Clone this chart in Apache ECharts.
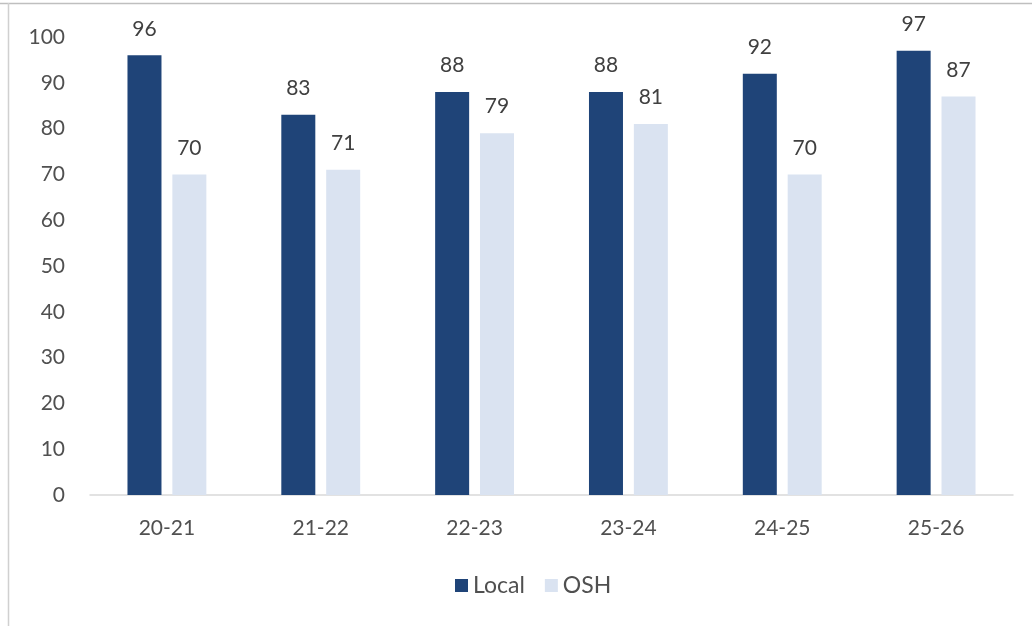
<!DOCTYPE html>
<html>
<head>
<meta charset="utf-8">
<style>
html,body{margin:0;padding:0;background:#fff;}
#chart{width:1032px;height:626px;}
</style>
<script src="https://cdn.jsdelivr.net/npm/echarts@6/dist/echarts.min.js"></script>
</head>
<body>
<div id="chart"></div>
<script>
const categories = ['20-21', '21-22', '22-23', '23-24', '24-25', '25-26'];
const localValues = [96, 83, 88, 88, 92, 97];
const oshValues = [70, 71, 79, 81, 70, 87];
const seriesNames = ['Local', 'OSH'];

const FONT = 'Lato, "Open Sans", sans-serif';
const chart = echarts.init(document.getElementById('chart'), null, {renderer: 'canvas'});
chart.setOption({
  animation: false,
  backgroundColor: '#ffffff',
  graphic: [
    {type: 'line', shape: {x1: 0, y1: 3.5, x2: 1032, y2: 3.5}, style: {stroke: '#BFBFBF', lineWidth: 1.5}},
    {type: 'line', shape: {x1: 8.5, y1: 3, x2: 8.5, y2: 626}, style: {stroke: '#D0D0D0', lineWidth: 1.5}}
  ],
  grid: {left: 90, right: 19, top: 37, bottom: 131, containLabel: false},
  legend: {
    data: seriesNames,
    left: 450,
    top: 569,
    itemWidth: 13,
    itemHeight: 13,
    itemGap: 20,
    icon: 'rect',
    textStyle: {fontFamily: FONT, fontSize: 23, color: '#505050'}
  },
  xAxis: {
    type: 'category',
    data: categories,
    axisLine: {show: true, lineStyle: {color: '#D9D9D9', width: 1.5}},
    axisTick: {show: false},
    axisLabel: {fontFamily: FONT, fontSize: 21, color: '#505050', margin: 23}
  },
  yAxis: {
    type: 'value',
    min: 0,
    max: 100,
    interval: 10,
    splitLine: {show: false},
    axisLine: {show: false},
    axisTick: {show: false},
    axisLabel: {fontFamily: FONT, fontSize: 21, color: '#505050', margin: 25}
  },
  series: [
    {
      name: seriesNames[0],
      type: 'bar',
      data: localValues,
      barWidth: 34,
      barGap: '32%',
      itemStyle: {color: '#1F4478'},
      label: {show: true, position: 'top', distance: 16, fontFamily: FONT, fontSize: 21, color: '#404040'}
    },
    {
      name: seriesNames[1],
      type: 'bar',
      data: oshValues,
      barWidth: 34,
      barGap: '32%',
      itemStyle: {color: '#DAE3F1'},
      label: {show: true, position: 'top', distance: 16, fontFamily: FONT, fontSize: 21, color: '#404040'}
    }
  ]
});
</script>
</body>
</html>
